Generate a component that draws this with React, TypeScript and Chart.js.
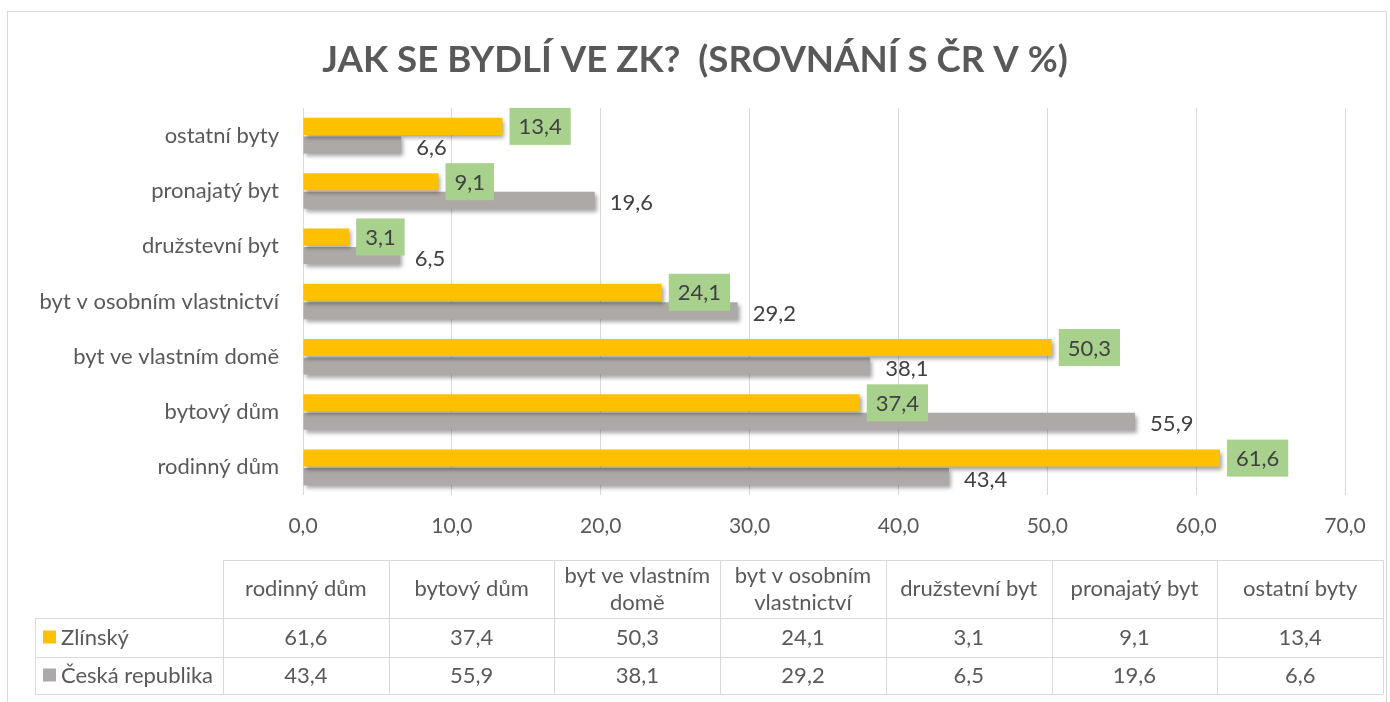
import React, { useEffect, useRef } from "react";
import { Chart, registerables } from "chart.js";

Chart.register(...registerables);

const TITLE = "JAK SE BYDLÍ VE ZK?  (SROVNÁNÍ S ČR V %)";
const categories = [
  "rodinný dům",
  "bytový dům",
  "byt ve vlastním domě",
  "byt v osobním vlastnictví",
  "družstevní byt",
  "pronajatý byt",
  "ostatní byty",
];
const headerLines = [
  ["rodinný dům"],
  ["bytový dům"],
  ["byt ve vlastním", "domě"],
  ["byt v osobním", "vlastnictví"],
  ["družstevní byt"],
  ["pronajatý byt"],
  ["ostatní byty"],
];
const zlinsky = [61.6, 37.4, 50.3, 24.1, 3.1, 9.1, 13.4];
const ceskaRepublika = [43.4, 55.9, 38.1, 29.2, 6.5, 19.6, 6.6];
const seriesNames = ["Zlínský", "Česká republika"];
const seriesColors = ["#FFC000", "#ACA9A7"];
const xMin = 0;
const xMax = 70;
const xStep = 10;

const FONT = "Lato, 'Open Sans', sans-serif";
const fmt = (v: number) => v.toFixed(1).replace(".", ",");

const frameAndTablePlugin = {
  id: "frameAndTable",
  afterDraw(chart: any) {
    const ctx = chart.ctx as CanvasRenderingContext2D;
    ctx.save();
    // frame
    ctx.strokeStyle = "#D9D9D9";
    ctx.lineWidth = 1;
    ctx.strokeRect(7.5, 11.5, 1379, 720);

    // title
    ctx.fillStyle = "#595959";
    ctx.font = `bold 40px ${FONT}`;
    const w40 = ctx.measureText(TITLE).width;
    const size = (40 * 746) / w40;
    ctx.font = `bold ${size}px ${FONT}`;
    ctx.textAlign = "center";
    ctx.textBaseline = "alphabetic";
    ctx.fillText(TITLE, 695, 72);

    // table
    const tLeft = 35;
    const hLeft = 223;
    const right = 1383;
    const rows = [560, 618, 657, 694];
    const n = categories.length;
    const colW = (right - hLeft) / n;
    ctx.strokeStyle = "#D9D9D9";
    ctx.beginPath();
    ctx.moveTo(hLeft, rows[0] + 0.5);
    ctx.lineTo(right, rows[0] + 0.5);
    for (let r = 1; r < rows.length; r++) {
      ctx.moveTo(tLeft, rows[r] + 0.5);
      ctx.lineTo(right, rows[r] + 0.5);
    }
    ctx.moveTo(tLeft + 0.5, rows[1]);
    ctx.lineTo(tLeft + 0.5, rows[3]);
    for (let i = 0; i <= n; i++) {
      const x = Math.round(hLeft + i * colW) + 0.5;
      ctx.moveTo(x, rows[0]);
      ctx.lineTo(x, rows[3]);
    }
    ctx.stroke();

    ctx.fillStyle = "#595959";
    ctx.font = `22px ${FONT}`;
    ctx.textBaseline = "middle";
    ctx.textAlign = "center";
    const hMid = (rows[0] + rows[1]) / 2;
    headerLines.forEach((lines, i) => {
      const cx = hLeft + (i + 0.5) * colW;
      if (lines.length === 1) {
        ctx.fillText(lines[0], cx, hMid);
      } else {
        ctx.fillText(lines[0], cx, hMid - 13.5);
        ctx.fillText(lines[1], cx, hMid + 13.5);
      }
    });
    const series = [zlinsky, ceskaRepublika];
    series.forEach((vals, s) => {
      const cy = (rows[s + 1] + rows[s + 2]) / 2;
      vals.forEach((v, i) => {
        ctx.textAlign = "center";
        ctx.fillStyle = "#595959";
        ctx.fillText(fmt(v), hLeft + (i + 0.5) * colW, cy);
      });
      ctx.fillStyle = seriesColors[s];
      ctx.fillRect(43, cy - 7, 13, 13);
      ctx.fillStyle = "#595959";
      ctx.textAlign = "left";
      ctx.fillText(seriesNames[s], 61, cy);
    });
    ctx.restore();
  },
};

const shadowPlugin = {
  id: "barShadow",
  beforeDatasetDraw(chart: any) {
    const ctx = chart.ctx as CanvasRenderingContext2D;
    ctx.save();
    ctx.shadowColor = "rgba(0,0,0,0.35)";
    ctx.shadowBlur = 4;
    ctx.shadowOffsetX = 2;
    ctx.shadowOffsetY = 3;
  },
  afterDatasetDraw(chart: any) {
    chart.ctx.restore();
  },
};

const labelPlugin = {
  id: "valueLabels",
  afterDatasetsDraw(chart: any) {
    const ctx = chart.ctx as CanvasRenderingContext2D;
    ctx.save();
    ctx.font = `22px ${FONT}`;
    ctx.textBaseline = "middle";
    chart.data.datasets.forEach((ds: any, di: number) => {
      const meta = chart.getDatasetMeta(di);
      meta.data.forEach((el: any, i: number) => {
        const txt = fmt(ds.data[i]);
        const tw = ctx.measureText(txt).width;
        if (di === 0) {
          const bx = el.x + 7;
          const bw = tw + 18;
          const bh = 37;
          ctx.fillStyle = "#A9D18E";
          ctx.fillRect(bx, el.y - bh / 2, bw, bh);
          ctx.fillStyle = "#404040";
          ctx.textAlign = "center";
          ctx.fillText(txt, bx + bw / 2, el.y + 1);
        } else {
          ctx.fillStyle = "#404040";
          ctx.textAlign = "left";
          ctx.fillText(txt, el.x + 15, el.y + 3);
        }
      });
    });
    ctx.restore();
  },
};

export default function App() {
  const ref = useRef<HTMLCanvasElement>(null);
  useEffect(() => {
    if (!ref.current) return;
    const labels = [...categories].reverse();
    const chart = new Chart(ref.current, {
      type: "bar",
      data: {
        labels,
        datasets: [
          {
            label: seriesNames[0],
            data: [...zlinsky].reverse(),
            backgroundColor: seriesColors[0],
            categoryPercentage: 0.67,
            barPercentage: 0.92,
          },
          {
            label: seriesNames[1],
            data: [...ceskaRepublika].reverse(),
            backgroundColor: seriesColors[1],
            categoryPercentage: 0.67,
            barPercentage: 0.92,
          },
        ],
      },
      options: {
        indexAxis: "y",
        animation: false,
        responsive: false,
        devicePixelRatio: 1,
        layout: { padding: { top: 108, right: 45, bottom: 0, left: 0 } },
        plugins: {
          legend: { display: false },
          tooltip: { enabled: false },
          title: { display: false },
        },
        scales: {
          x: {
            min: xMin,
            max: xMax,
            afterFit: (scale: any) => {
              scale.height = 207;
            },
            ticks: {
              stepSize: xStep,
              color: "#595959",
              font: { family: FONT, size: 21 },
              padding: 19,
              callback: (v: any) => fmt(Number(v)),
            },
            grid: { color: "#D9D9D9", drawTicks: false, lineWidth: 1 },
            border: { display: false },
          },
          y: {
            afterFit: (scale: any) => {
              scale.width = 303;
            },
            ticks: {
              color: "#595959",
              font: { family: FONT, size: 22 },
              padding: 24,
            },
            grid: { display: false, drawTicks: false },
            border: { display: false },
          },
        },
      },
      plugins: [shadowPlugin, labelPlugin, frameAndTablePlugin],
    });
    return () => chart.destroy();
  }, []);
  return (
    <div style={{ position: "absolute", left: 0, top: 0, width: 1390, height: 702, background: "#fff" }}>
      <canvas ref={ref} width={1390} height={702} />
    </div>
  );
}
